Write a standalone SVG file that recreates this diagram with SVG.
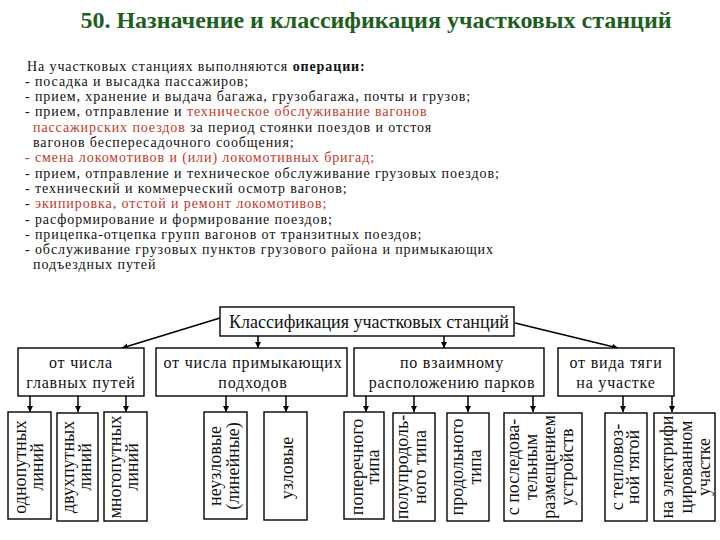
<svg xmlns="http://www.w3.org/2000/svg" width="720" height="540" viewBox="0 0 720 540">
<style>
text{font-family:"Liberation Serif","Times New Roman","DejaVu Serif","Noto Serif",serif}
.title{font-weight:bold;font-size:24px;fill:#1e5e1e}
.body{font-size:14px;letter-spacing:0.9px;fill:#111}
.red{fill:#c0392b}
.box{fill:#fff;stroke:#000;stroke-width:1.4}
.lbl{font-size:18px;fill:#111;text-anchor:middle}
.l2{font-size:16px;letter-spacing:0.8px;fill:#111;text-anchor:middle}
.vl{font-size:18px;fill:#111;text-anchor:middle}
.con{stroke:#000;stroke-width:1.5;fill:none;marker-end:url(#ah)}
</style>
<defs>
<marker id="ah" viewBox="0 0 10 10" refX="10" refY="5" markerWidth="6" markerHeight="6" markerUnits="userSpaceOnUse" orient="auto">
<path d="M0,0 L10,5 L0,10 z" fill="#000"/>
</marker>
</defs>
<rect width="720" height="540" fill="#fff"/>
<text class="title" x="376" y="28" text-anchor="middle">50. Назначение и классификация участковых станций</text>
<g id="operations">
<text class="body" x="27" y="70.5">На участковых станциях выполняются <tspan font-weight="bold">операции:</tspan></text>
<text class="body" x="25" y="85.8">- посадка и высадка пассажиров;</text>
<text class="body" x="25" y="101.1">- прием, хранение и выдача багажа, грузобагажа, почты и грузов;</text>
<text class="body" x="25" y="116.4">- прием, отправление и <tspan class="red">техническое обслуживание вагонов</tspan></text>
<text class="body" x="33" y="131.7"><tspan class="red">пассажирских поездов</tspan> за период стоянки поездов и отстоя</text>
<text class="body" x="33" y="147">вагонов беспересадочного сообщения;</text>
<text class="body red" x="25" y="162.3">- смена локомотивов и (или) локомотивных бригад;</text>
<text class="body" x="25" y="177.6">- прием, отправление и техническое обслуживание грузовых поездов;</text>
<text class="body" x="25" y="192.9">- технический и коммерческий осмотр вагонов;</text>
<text class="body" x="25" y="208.2">- <tspan class="red">экипировка, отстой и ремонт локомотивов;</tspan></text>
<text class="body" x="25" y="223.5">- расформирование и формирование поездов;</text>
<text class="body" x="25" y="238.8">- прицепка-отцепка групп вагонов от транзитных поездов;</text>
<text class="body" x="25" y="254.1">- обслуживание грузовых пунктов грузового района и примыкающих</text>
<text class="body" x="33" y="269.4">подъездных путей</text>
</g>
<g id="connectors">
<line class="con" x1="220" y1="318" x2="122" y2="348"/>
<line class="con" x1="258" y1="336" x2="258" y2="348"/>
<line class="con" x1="444" y1="336" x2="444" y2="348"/>
<line class="con" x1="515" y1="323" x2="618" y2="348"/>
<line class="con" x1="30" y1="396" x2="30" y2="412"/>
<line class="con" x1="78" y1="396" x2="78" y2="412"/>
<line class="con" x1="126" y1="396" x2="126" y2="412"/>
<line class="con" x1="226" y1="396" x2="226" y2="412"/>
<line class="con" x1="286" y1="396" x2="286" y2="412"/>
<line class="con" x1="366" y1="396" x2="366" y2="412"/>
<line class="con" x1="414" y1="396" x2="414" y2="412"/>
<line class="con" x1="468" y1="396" x2="468" y2="412"/>
<line class="con" x1="533" y1="396" x2="533" y2="412"/>
<line class="con" x1="623" y1="396" x2="623" y2="412"/>
<line class="con" x1="672" y1="396" x2="672" y2="412"/>
</g>
<g id="root">
<rect class="box" x="220" y="307" width="294" height="29"/>
<text class="lbl" x="369" y="328">Классификация участковых станций</text>
</g>
<g id="main-tracks">
<rect class="box" x="18" y="348" width="126" height="48"/>
<text class="l2" x="81" y="368">от числа</text>
<text class="l2" x="81" y="388">главных путей</text>
</g>
<g id="approaches">
<rect class="box" x="156" y="348" width="191" height="48"/>
<text class="l2" x="253" y="368">от числа примыкающих</text>
<text class="l2" x="253" y="388">подходов</text>
</g>
<g id="parks">
<rect class="box" x="354" y="348" width="190" height="48"/>
<text class="l2" x="452" y="368">по взаимному</text>
<text class="l2" x="452" y="388">расположению парков</text>
</g>
<g id="traction">
<rect class="box" x="558" y="348" width="116" height="48"/>
<text class="l2" x="616" y="368">от вида тяги</text>
<text class="l2" x="616" y="388">на участке</text>
</g>
<g id="single-track">
<rect class="box" x="8" y="412" width="43" height="107"/>
<text class="vl" transform="translate(26,467) rotate(-90)"><tspan x="0" dy="0">однопутных</tspan><tspan x="0" dy="17">линий</tspan></text>
</g>
<g id="double-track">
<rect class="box" x="57" y="413" width="41" height="108"/>
<text class="vl" transform="translate(74,467) rotate(-90)"><tspan x="0" dy="0">двухпутных</tspan><tspan x="0" dy="17">линий</tspan></text>
</g>
<g id="multi-track">
<rect class="box" x="104" y="412" width="43" height="109"/>
<text class="vl" transform="translate(121,467) rotate(-90)"><tspan x="0" dy="0">многопутных</tspan><tspan x="0" dy="17">линий</tspan></text>
</g>
<g id="non-junction">
<rect class="box" x="204" y="412" width="43" height="107"/>
<text class="vl" transform="translate(221,466) rotate(-90)"><tspan x="0" dy="0">неузловые</tspan><tspan x="0" dy="18">(линейные)</tspan></text>
</g>
<g id="junction">
<rect class="box" x="264" y="412" width="43" height="108"/>
<text class="vl" transform="translate(293,468) rotate(-90)">узловые</text>
</g>
<g id="transverse">
<rect class="box" x="344" y="412" width="40" height="107"/>
<text class="vl" transform="translate(363,467) rotate(-90)"><tspan x="0" dy="0">поперечного</tspan><tspan x="0" dy="16">типа</tspan></text>
</g>
<g id="semi-longitudinal">
<rect class="box" x="393" y="413" width="42" height="108"/>
<text class="vl" transform="translate(408,467) rotate(-90)"><tspan x="0" dy="0">полупродоль-</tspan><tspan x="0" dy="18">ного типа</tspan></text>
</g>
<g id="longitudinal">
<rect class="box" x="447" y="413" width="42" height="108"/>
<text class="vl" transform="translate(463,467) rotate(-90)"><tspan x="0" dy="0">продольного</tspan><tspan x="0" dy="18">типа</tspan></text>
</g>
<g id="sequential">
<rect class="box" x="504" y="413" width="78" height="108"/>
<text class="vl" transform="translate(519,467) rotate(-90)"><tspan x="0" dy="0">с последова-</tspan><tspan x="0" dy="18">тельным</tspan><tspan x="0" dy="18">размещением</tspan><tspan x="0" dy="18">устройств</tspan></text>
</g>
<g id="diesel">
<rect class="box" x="605" y="413" width="42" height="108"/>
<text class="vl" transform="translate(623,467) rotate(-90)"><tspan x="0" dy="0">с тепловоз-</tspan><tspan x="0" dy="16">ной тягой</tspan></text>
</g>
<g id="electric">
<rect class="box" x="654" y="413" width="61" height="108"/>
<text class="vl" transform="translate(673,467) rotate(-90)"><tspan x="0" dy="0">на электрифи</tspan><tspan x="0" dy="19">цированном</tspan><tspan x="0" dy="18">участке</tspan></text>
</g>
</svg>
